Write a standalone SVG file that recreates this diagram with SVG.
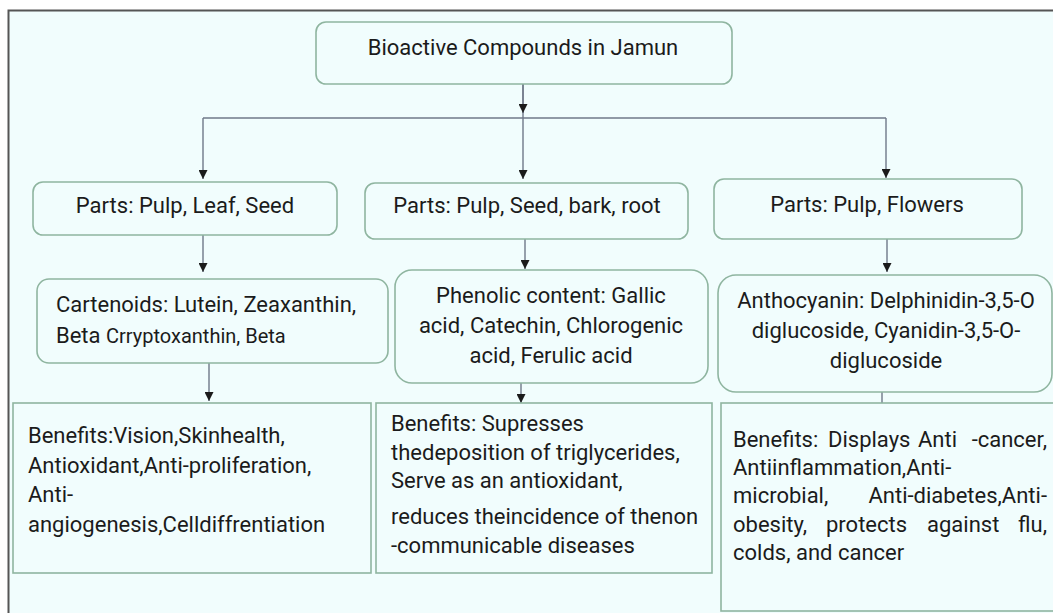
<svg xmlns="http://www.w3.org/2000/svg" width="1053" height="613" viewBox="0 0 1053 613">
<style>
.box{fill:#f1fdfd;stroke:#8fb5a0;stroke-width:1.6}
.t{font-family:Roboto,"Liberation Sans",sans-serif;font-size:22px;fill:#1b1b1b}
.c{text-anchor:middle}
.e{text-anchor:end}
.con{fill:none;stroke:#6f7888;stroke-width:1.4}
</style>
<defs>
<marker id="ah" viewBox="0 0 10 10" refX="10" refY="5" markerWidth="10" markerHeight="9" markerUnits="userSpaceOnUse" orient="auto">
<path d="M0,0 L10,5 L0,10 z" fill="#1b1b1b"/>
</marker>
</defs>
<rect x="0" y="0" width="1053" height="613" fill="#ffffff"/>
<rect x="9" y="11" width="1044" height="602" fill="#f1fdfd"/>
<path d="M8.5,613 V10.5 H1053" fill="none" stroke="#555" stroke-width="2"/>

<g id="connectors">
<path class="con" d="M523,84 V118"/>
<path class="con" d="M523,84 V113" marker-end="url(#ah)"/>
<path class="con" d="M203,118 H886"/>
<path class="con" d="M203,118 V179" marker-end="url(#ah)"/>
<path class="con" d="M523,118 V179" marker-end="url(#ah)"/>
<path class="con" d="M886,118 V178" marker-end="url(#ah)"/>
<path class="con" d="M203,235 V272" marker-end="url(#ah)"/>
<path class="con" d="M525,239 V269" marker-end="url(#ah)"/>
<path class="con" d="M887,239 V272" marker-end="url(#ah)"/>
<path class="con" d="M209,363 V401" marker-end="url(#ah)"/>
<path class="con" d="M521,383 V403" marker-end="url(#ah)"/>
<path class="con" d="M882,392 V403"/>
</g>

<g id="title">
<rect class="box" x="316" y="22" width="416" height="62" rx="10"/>
<text class="t c" x="523" y="55">Bioactive Compounds in Jamun</text>
</g>

<g id="parts-left">
<rect class="box" x="33" y="182" width="304" height="53" rx="10"/>
<text class="t c" x="185" y="213">Parts: Pulp, Leaf, Seed</text>
</g>
<g id="parts-middle">
<rect class="box" x="365" y="183" width="323" height="56" rx="10"/>
<text class="t c" x="527" y="213">Parts: Pulp, Seed, bark, root</text>
</g>
<g id="parts-right">
<rect class="box" x="714" y="179" width="308" height="60" rx="10"/>
<text class="t c" x="867" y="212">Parts: Pulp, Flowers</text>
</g>

<g id="cartenoids">
<rect class="box" x="37" y="279" width="351" height="84" rx="12"/>
<text class="t" x="56" y="312">Cartenoids: Lutein, Zeaxanthin,</text>
<text class="t" x="56" y="343">Beta <tspan font-size="20">Crryptoxanthin, Beta</tspan></text>
</g>
<g id="phenolic">
<rect class="box" x="395" y="270" width="313" height="113" rx="17"/>
<text class="t c" x="551" y="303">Phenolic content: Gallic</text>
<text class="t c" x="551" y="333">acid, Catechin, Chlorogenic</text>
<text class="t c" x="551" y="363">acid, Ferulic acid</text>
</g>
<g id="anthocyanin">
<rect class="box" x="718" y="275" width="334" height="117" rx="18"/>
<text class="t c" x="886" y="308">Anthocyanin: Delphinidin-3,5-O</text>
<text class="t c" x="886" y="338">diglucoside, Cyanidin-3,5-O-</text>
<text class="t c" x="886" y="368">diglucoside</text>
</g>

<g id="benefits-left">
<rect class="box" x="13" y="403" width="358" height="170"/>
<text class="t" x="28" y="443">Benefits:Vision,Skinhealth,</text>
<text class="t" x="28" y="473">Antioxidant,Anti-proliferation,</text>
<text class="t" x="28" y="502">Anti-</text>
<text class="t" x="28" y="532">angiogenesis,Celldiffrentiation</text>
</g>
<g id="benefits-middle">
<rect class="box" x="376" y="403" width="336" height="170"/>
<text class="t" x="391" y="431">Benefits: Supresses</text>
<text class="t" x="391" y="460">thedeposition of triglycerides,</text>
<text class="t" x="391" y="488">Serve as an antioxidant,</text>
<text class="t" x="391" y="524">reduces theincidence of thenon</text>
<text class="t" x="391" y="553">-communicable diseases</text>
</g>
<g id="benefits-right">
<rect class="box" x="721" y="403" width="345" height="208"/>
<text class="t" y="447"><tspan x="733">Benefits:</tspan><tspan x="828">Displays</tspan><tspan x="918">Anti</tspan><tspan x="1047" text-anchor="end">-cancer,</tspan></text>
<text class="t" x="733" y="475">Antiinflammation,Anti-</text>
<text class="t" y="503"><tspan x="733">microbial,</tspan><tspan x="1047" text-anchor="end">Anti-diabetes,Anti-</tspan></text>
<text class="t" y="532"><tspan x="733">obesity,</tspan><tspan x="826">protects</tspan><tspan x="927">against</tspan><tspan x="1047" text-anchor="end">flu,</tspan></text>
<text class="t" x="733" y="560">colds, and cancer</text>
</g>
</svg>
